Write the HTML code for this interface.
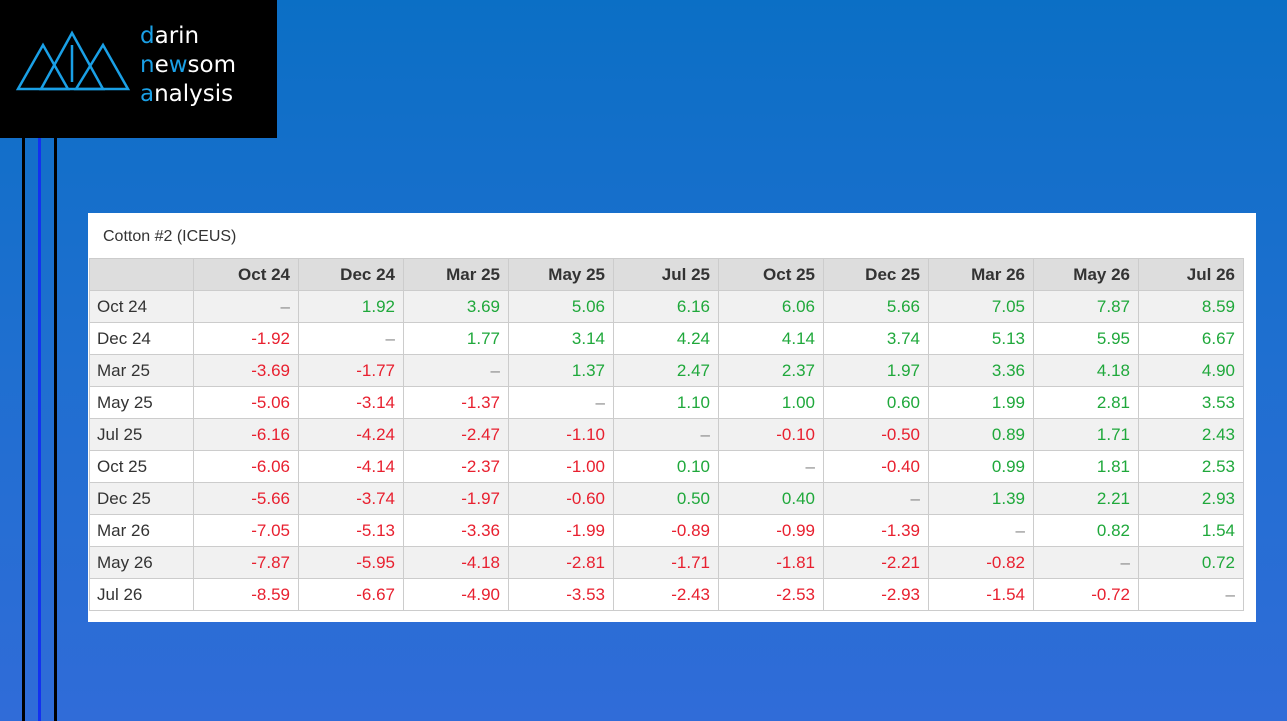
<!DOCTYPE html>
<html><head><style>
body{margin:0;width:1287px;height:721px;overflow:hidden;background:linear-gradient(180deg,#0b6fc5 0%,#1f6fd0 50%,#306cd8 100%);font-family:"Liberation Sans",sans-serif;position:relative}
.logo{position:absolute;left:0;top:0;width:277px;height:138px;background:#000}
.bar{position:absolute;top:138px;bottom:0;width:3px;background:#000}
.panel{position:absolute;left:88px;top:213px;width:1168px;height:409px;background:#fff}
.title{position:absolute;left:15px;top:15px;font-size:16px;color:#333}
table{position:absolute;left:1px;top:45px;border-collapse:collapse;font-size:17px;table-layout:fixed;width:1154px}
td{height:32px;border:1px solid #ccc;text-align:right;padding:0 8px 0 0;width:105px;box-sizing:border-box;white-space:nowrap}
td:first-child{text-align:left;padding-left:7px;width:104px;color:#333}
tr.h td{background:#ddd;font-weight:bold;color:#333}
tr:nth-child(even) td{background:#f1f1f1}
.g{color:#1fa83b}.r{color:#e8202f}.d{color:#888}
</style></head><body>
<div class="logo">
<svg width="140" height="100" style="position:absolute;left:10px;top:20px"><g fill="none" stroke="#1aa0e6" stroke-width="2.5"><polygon points="8,69 33,25 58,69"/><polygon points="31,69 62,13 93,69"/><polygon points="66,69 93,25 118,69"/><line x1="62" y1="25" x2="62" y2="62"/></g></svg>
<div style="position:absolute;left:140px;top:22px;font-size:23px;line-height:29px;color:#fff;font-family:'DejaVu Sans',sans-serif"><span style="color:#1aa0e6">d</span>arin<br><span style="color:#1aa0e6">n</span>e<span style="color:#1aa0e6">w</span>som<br><span style="color:#1aa0e6">a</span>nalysis</div>
</div>
<div class="bar" style="left:22px"></div><div class="bar" style="left:38px;background:#1230f0"></div><div class="bar" style="left:54px"></div>
<div class="panel"><div class="title">Cotton #2 (ICEUS)</div>
<table>
<tr class="h"><td></td><td>Oct 24</td><td>Dec 24</td><td>Mar 25</td><td>May 25</td><td>Jul 25</td><td>Oct 25</td><td>Dec 25</td><td>Mar 26</td><td>May 26</td><td>Jul 26</td></tr>
<tr><td>Oct 24</td><td class="d">–</td><td class="g">1.92</td><td class="g">3.69</td><td class="g">5.06</td><td class="g">6.16</td><td class="g">6.06</td><td class="g">5.66</td><td class="g">7.05</td><td class="g">7.87</td><td class="g">8.59</td></tr>
<tr><td>Dec 24</td><td class="r">-1.92</td><td class="d">–</td><td class="g">1.77</td><td class="g">3.14</td><td class="g">4.24</td><td class="g">4.14</td><td class="g">3.74</td><td class="g">5.13</td><td class="g">5.95</td><td class="g">6.67</td></tr>
<tr><td>Mar 25</td><td class="r">-3.69</td><td class="r">-1.77</td><td class="d">–</td><td class="g">1.37</td><td class="g">2.47</td><td class="g">2.37</td><td class="g">1.97</td><td class="g">3.36</td><td class="g">4.18</td><td class="g">4.90</td></tr>
<tr><td>May 25</td><td class="r">-5.06</td><td class="r">-3.14</td><td class="r">-1.37</td><td class="d">–</td><td class="g">1.10</td><td class="g">1.00</td><td class="g">0.60</td><td class="g">1.99</td><td class="g">2.81</td><td class="g">3.53</td></tr>
<tr><td>Jul 25</td><td class="r">-6.16</td><td class="r">-4.24</td><td class="r">-2.47</td><td class="r">-1.10</td><td class="d">–</td><td class="r">-0.10</td><td class="r">-0.50</td><td class="g">0.89</td><td class="g">1.71</td><td class="g">2.43</td></tr>
<tr><td>Oct 25</td><td class="r">-6.06</td><td class="r">-4.14</td><td class="r">-2.37</td><td class="r">-1.00</td><td class="g">0.10</td><td class="d">–</td><td class="r">-0.40</td><td class="g">0.99</td><td class="g">1.81</td><td class="g">2.53</td></tr>
<tr><td>Dec 25</td><td class="r">-5.66</td><td class="r">-3.74</td><td class="r">-1.97</td><td class="r">-0.60</td><td class="g">0.50</td><td class="g">0.40</td><td class="d">–</td><td class="g">1.39</td><td class="g">2.21</td><td class="g">2.93</td></tr>
<tr><td>Mar 26</td><td class="r">-7.05</td><td class="r">-5.13</td><td class="r">-3.36</td><td class="r">-1.99</td><td class="r">-0.89</td><td class="r">-0.99</td><td class="r">-1.39</td><td class="d">–</td><td class="g">0.82</td><td class="g">1.54</td></tr>
<tr><td>May 26</td><td class="r">-7.87</td><td class="r">-5.95</td><td class="r">-4.18</td><td class="r">-2.81</td><td class="r">-1.71</td><td class="r">-1.81</td><td class="r">-2.21</td><td class="r">-0.82</td><td class="d">–</td><td class="g">0.72</td></tr>
<tr><td>Jul 26</td><td class="r">-8.59</td><td class="r">-6.67</td><td class="r">-4.90</td><td class="r">-3.53</td><td class="r">-2.43</td><td class="r">-2.53</td><td class="r">-2.93</td><td class="r">-1.54</td><td class="r">-0.72</td><td class="d">–</td></tr>
</table></div>
</body></html>
